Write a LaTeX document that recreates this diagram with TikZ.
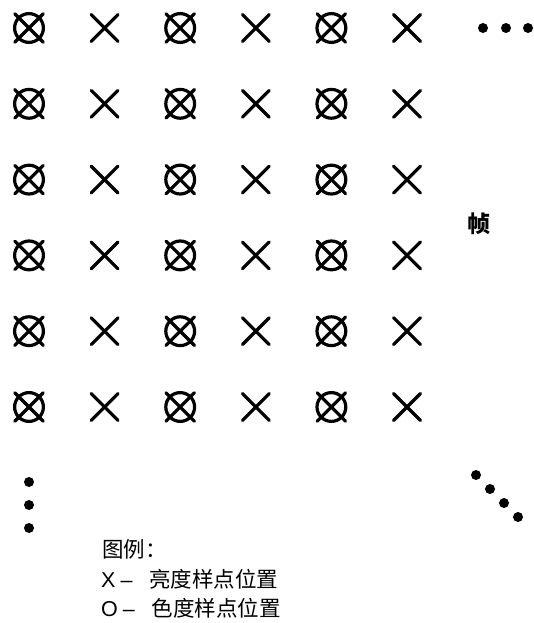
\documentclass[tikz,border=0pt]{standalone}
\usepackage{fontspec}
\usetikzlibrary{calc}
\setmainfont{Liberation Sans}
\newfontfamily\cjk{Noto Sans CJK SC}
\begin{document}
\begin{tikzpicture}[x=1pt,y=-1pt,
  sym/.style={line width=3.2pt,line cap=round},
  blob/.style={fill=black},
  lbl/.style={anchor=west,inner sep=0pt,font=\fontsize{21.5}{21.5}\selectfont}]
\useasboundingbox (0,0) rectangle (534,623);
\foreach \r in {0,...,5}{
  \foreach \c in {0,2,4}{
    \coordinate (o\r\c) at ({29+75.6*\c},{28+75.8*\r});
    \draw[sym] (o\r\c) circle (14.4);
    \draw[sym] ($(o\r\c)+(-14.2,-14.2)$) -- ($(o\r\c)+(14.2,14.2)$);
    \draw[sym] ($(o\r\c)+(-14.2,14.2)$) -- ($(o\r\c)+(14.2,-14.2)$);
  }
  \foreach \c in {1,3,5}{
    \coordinate (x\r\c) at ({29+75.6*\c},{28+75.8*\r});
    \draw[sym] ($(x\r\c)+(-13.4,-13.4)$) -- ($(x\r\c)+(13.4,13.4)$);
    \draw[sym] ($(x\r\c)+(-13.4,13.4)$) -- ($(x\r\c)+(13.4,-13.4)$);
  }
}
% horizontal ellipsis
\foreach \i/\x in {1/483,2/506,3/528}{\fill[blob] (\x,28) circle (5);}
% vertical ellipsis
\foreach \i/\y in {1/482,2/505,3/528}{\fill[blob] (29,\y) circle (5);}
% diagonal ellipsis
\foreach \i/\x/\y in {1/476/475,2/490/489,3/504/503,4/518/517}{\fill[blob] (\x,\y) circle (5);}
\node[font={\cjk\bfseries\fontsize{23}{23}\selectfont},inner sep=0pt] (zhen) at (479,224) {帧};
\node[lbl] (leg0) at (102,549) {\cjk 图例：};
\node[lbl] (leg1) at (101,579) {X\hspace{5pt}–\hspace{17pt}{\cjk 亮度样点位置}};
\node[lbl] (leg2) at (101,608) {O\hspace{5pt}–\hspace{17pt}{\cjk 色度样点位置}};
\end{tikzpicture}
\end{document}
